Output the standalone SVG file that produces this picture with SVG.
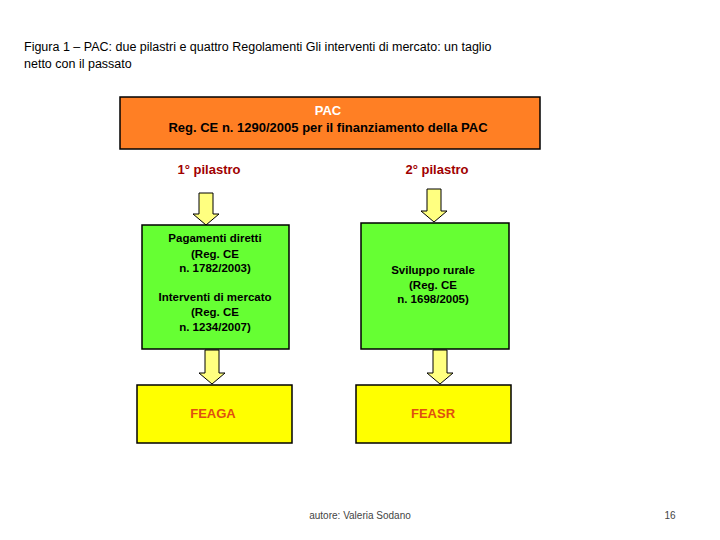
<svg xmlns="http://www.w3.org/2000/svg" width="720" height="540" viewBox="0 0 720 540">
<style>
.t{font-family:"Liberation Sans",Arial,sans-serif}
.b{font-weight:bold}
.box{stroke:#000;stroke-width:1.5}
.arr{fill:#ffff80;stroke:#000;stroke-width:1}
</style>
<rect width="720" height="540" fill="#fff"/>
<text class="t" font-size="12.5" fill="#000"><tspan x="24" y="51">Figura 1 – PAC: due pilastri e quattro Regolamenti Gli interventi di mercato: un taglio</tspan><tspan x="24" y="68">netto con il passato</tspan></text>
<g id="pac">
<rect class="box" x="120" y="97" width="420" height="52" fill="#ff7f24"/>
<text class="t b" x="328" y="115" font-size="13" fill="#fff" text-anchor="middle">PAC</text>
<text class="t b" x="328" y="132" font-size="13" fill="#000" text-anchor="middle">Reg. CE n. 1290/2005 per il finanziamento della PAC</text>
</g>
<g id="p1"><text class="t b" x="209" y="174" font-size="13" fill="#a00000" text-anchor="middle">1° pilastro</text></g>
<g id="p2"><text class="t b" x="437" y="174" font-size="13" fill="#a00000" text-anchor="middle">2° pilastro</text></g>
<g id="connectors">
<path class="arr" d="M199,193 H213 V214 H219 L206,225 L193,214 H199 Z"/>
<path class="arr" d="M427,189 H441 V211 H447 L434,222 L421,211 H427 Z"/>
<path class="arr" d="M205,350 H219 V373 H225 L212,384 L199,373 H205 Z"/>
<path class="arr" d="M433,350 H447 V373 H453 L440,384 L427,373 H433 Z"/>
</g>
<g id="green1">
<rect class="box" x="142" y="225" width="147" height="124" fill="#66ff33"/>
<text class="t b" font-size="11.5" fill="#000" text-anchor="middle"><tspan x="215" y="242">Pagamenti diretti</tspan><tspan x="215" y="258">(Reg. CE</tspan><tspan x="215" y="272">n. 1782/2003)</tspan><tspan x="215" y="301">Interventi di mercato</tspan><tspan x="215" y="316">(Reg. CE</tspan><tspan x="215" y="331">n. 1234/2007)</tspan></text>
</g>
<g id="green2">
<rect class="box" x="361" y="223" width="148" height="126" fill="#66ff33"/>
<text class="t b" font-size="11.5" fill="#000" text-anchor="middle"><tspan x="433" y="274">Sviluppo rurale</tspan><tspan x="433" y="289">(Reg. CE</tspan><tspan x="433" y="303">n. 1698/2005)</tspan></text>
</g>
<g id="feaga">
<rect class="box" x="137" y="385" width="155" height="58" fill="#ffff00"/>
<text class="t b" x="213" y="418" font-size="13" fill="#e05010" text-anchor="middle">FEAGA</text>
</g>
<g id="feasr">
<rect class="box" x="356" y="385" width="155" height="58" fill="#ffff00"/>
<text class="t b" x="433" y="418" font-size="13" fill="#e05010" text-anchor="middle">FEASR</text>
</g>
<text class="t" x="360" y="519" font-size="10" fill="#444" text-anchor="middle">autore: Valeria Sodano</text>
<text class="t" x="670" y="519" font-size="10" fill="#444" text-anchor="middle">16</text>
</svg>
